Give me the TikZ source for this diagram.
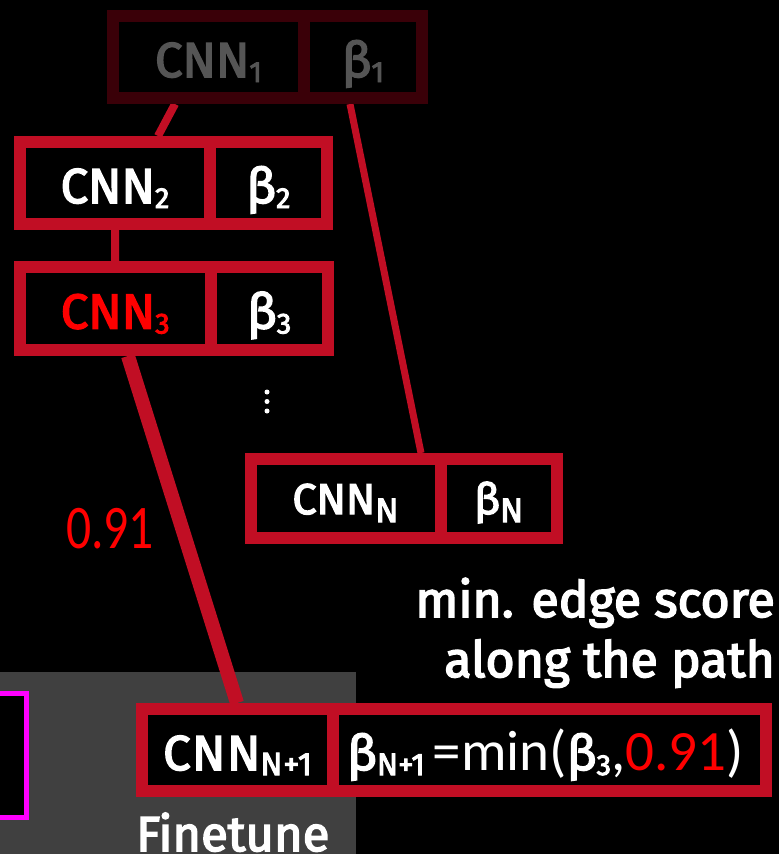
\documentclass[tikz,border=0pt]{standalone}
\usepackage{fontspec}
\setmainfont{Fira Sans}
\newfontfamily\lblfont{Fira Sans}[FakeBold=3.2]
\newfontfamily\thinfont{Carlito}

\definecolor{boxred}{RGB}{193,14,36}
\definecolor{fadedred}{RGB}{58,0,8}
\definecolor{fadedtext}{RGB}{85,85,85}
\definecolor{panelgrey}{RGB}{64,64,64}
\definecolor{hotred}{RGB}{255,0,0}
\definecolor{magentaline}{RGB}{255,0,255}
\definecolor{dimtext}{RGB}{150,150,150}

% lowered subscript in a smaller size: [size]{lowering}{text}
\newcommand\lowsub[3][29]{\raisebox{-#2pt}{\fontsize{#1}{#1}\selectfont #3}}
\newcommand\thin[1]{{\thinfont\fontsize{57}{57}\selectfont #1}}

\pgfdeclarelayer{back}
\pgfdeclarelayer{links}
\pgfsetlayers{back,links,main}

\begin{document}
\begin{tikzpicture}[x=1pt,y=-1pt,
  cell/.style={draw=boxred, line width=12pt, fill=black, inner sep=0pt,
    minimum height=82pt, text=white, text height=40pt, text depth=0pt,
    font=\lblfont\fontsize{49}{49}\selectfont},
  fadedcell/.style={cell, draw=fadedred, text=fadedtext},
  smallcell/.style={cell, minimum height=79pt, text height=31pt,
    font=\lblfont\fontsize{43}{43}\selectfont},
  link/.style={draw=boxred, line width=8pt},
  biglabel/.style={inner sep=0pt, text=white, font=\lblfont\fontsize{50}{50}\selectfont},
]
\useasboundingbox (0,0) rectangle (779,854);

% magenta frame on the left of the panel
\node[draw=magentaline, line width=5pt, fill=black, minimum width=60pt,
  minimum height=124pt, inner sep=0pt] (prev) at (-3.5,755.5) {};

% tree of models: cells
\node[fadedcell, minimum width=191pt] (c1) at (208.5,57) {CNN\lowsub{5}{1}};
\node[fadedcell, minimum width=118pt] (b1) at (363,57) {β\lowsub{5}{1}};

\node[cell, minimum width=190pt] (c2) at (115,183) {CNN\lowsub{5}{2}};
\node[cell, minimum width=117pt] (b2) at (268.5,183) {β\lowsub{5}{2}};

\node[cell, minimum width=190.5pt, minimum height=83pt, text=hotred] (c3) at (115.25,308.5) {CNN\lowsub{5}{3}};
\node[cell, minimum width=117.5pt, minimum height=83pt] (b3) at (269.25,308.5) {β\lowsub{5}{3}};

\node[smallcell, minimum width=190pt] (cN) at (345.5,498.5) {CNN\lowsub[34]{8}{N}};
\node[smallcell, minimum width=116.5pt] (bN) at (498.75,498.5) {β\lowsub[34]{8}{N}};

\node[cell, minimum width=191pt] (cM) at (237.5,750)
  {\addfontfeatures{LetterSpace=3}CNN\lowsub[32]{5}{N+1}};
\node[cell, minimum width=433pt] (bM) at (549.5,750)
  {\hspace*{-8pt}β\lowsub[31]{5}{N+1}\hspace{8pt}\thin{=min(}β\lowsub{5}{3}\thin{,\textcolor{hotred}{0.91})}};

% vertical dots between the third and the last model
\foreach \i/\yy in {1/392,2/401.5,3/411}
  \node[circle, fill=white, inner sep=0pt, minimum size=5pt] (dot\i) at (267,\yy) {};

% labels
\node[inner sep=0pt, anchor=base, text=hotred, font=\thinfont\fontsize{62}{62}\selectfont]
  (score) at (110,548) {\scalebox{0.8}[1]{0.91}};
\node[biglabel, anchor=base east] (note1) at (775,617) {min. edge score};
\node[biglabel, anchor=base east] (note2) at (775,677) {along the path};
\node[biglabel, anchor=base west, font=\lblfont\fontsize{49}{49}\selectfont] (fine) at (136,851) {Finetune};
\node[inner sep=0pt, anchor=base west, text=dimtext, font=\thinfont\fontsize{40}{40}\selectfont] (tail) at (678,880) {10.0};

% connectors between the cells
\begin{pgfonlayer}{links}
  \draw[link] ([xshift=68pt]c1.south west) -- ([xshift=144pt]c2.north west);
  \draw[link] (c2.south) -- (c3.north);
  \draw[link, line width=7pt] ([xshift=52pt]b1.south west) -- ([xshift=176.5pt]cN.north west);
  \draw[link, line width=14pt] ([xshift=114pt]c3.south west) -- ([xshift=101pt]cM.north west);
\end{pgfonlayer}

% background and grey panel
\begin{pgfonlayer}{back}
  \fill[black] (0,0) rectangle (779,854);
  \fill[panelgrey] (-5,672) rectangle (356,860);
\end{pgfonlayer}
\end{tikzpicture}
\end{document}
